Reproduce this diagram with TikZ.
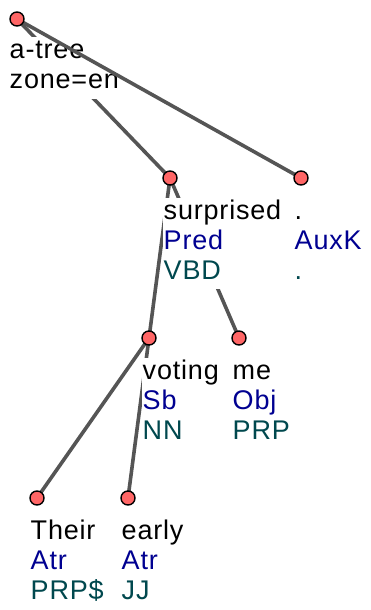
\documentclass[tikz,border=0pt]{standalone}
\usepackage{fontspec}
\setmainfont[LetterSpace=3]{Liberation Sans}
\definecolor{dotred}{RGB}{255,102,102}
\definecolor{edgegray}{RGB}{85,85,85}
\definecolor{afun}{RGB}{0,0,145}
\definecolor{tag}{RGB}{0,72,78}
\begin{document}
\begin{tikzpicture}[x=1pt,y=-1pt,
    dot/.style={circle,draw=black,fill=dotred,line width=1.4pt,minimum size=14pt,inner sep=0pt},
    edge/.style={draw=edgegray,line width=3.6pt},
    lbl/.style={fill=white,inner sep=0.5pt,anchor=base west,font=\fontsize{27}{30}\selectfont}]
    \useasboundingbox (0,0) rectangle (370,610);

    % Node positions
    \coordinate (root) at (17,19);
    \coordinate (surprised) at (170,178);
    \coordinate (period) at (301,178);
    \coordinate (voting) at (149,338);
    \coordinate (me) at (239,338);
    \coordinate (their) at (37,498);
    \coordinate (early) at (128,498);

    % Edges behind the labels
    \draw[edge] (root) -- (surprised);
    \draw[edge] (surprised) -- (voting);
    \draw[edge] (surprised) -- (me);
    \draw[edge] (voting) -- (their);
    \draw[edge] (voting) -- (early);

    % Labels
    \node[lbl] (root-lbl) at (9,59) {\begin{tabular}[t]{@{}l@{}}a-tree\\zone=en\end{tabular}};
    \node[lbl] (surprised-lbl) at (163,219) {\begin{tabular}[t]{@{}l@{}}surprised\\\color{afun}Pred\\\color{tag}VBD\end{tabular}};
    \node[lbl] (period-lbl) at (294,219) {\begin{tabular}[t]{@{}l@{}}.\\\color{afun}AuxK\\\color{tag}.\end{tabular}};
    \node[lbl] (voting-lbl) at (142,379) {\begin{tabular}[t]{@{}l@{}}voting\\\color{afun}Sb\\\color{tag}NN\end{tabular}};
    \node[lbl] (me-lbl) at (232,379) {\begin{tabular}[t]{@{}l@{}}me\\\color{afun}Obj\\\color{tag}PRP\end{tabular}};
    \node[lbl] (their-lbl) at (30,539) {\begin{tabular}[t]{@{}l@{}}Their\\\color{afun}Atr\\\color{tag}PRP\$\end{tabular}};
    \node[lbl] (early-lbl) at (121,539) {\begin{tabular}[t]{@{}l@{}}early\\\color{afun}Atr\\\color{tag}JJ\end{tabular}};

    % Edge over the root label
    \draw[edge] (root) -- (period);

    % Dots
    \foreach \n in {root,surprised,period,voting,me,their,early}
        \node[dot] (\n-dot) at (\n) {};
\end{tikzpicture}
\end{document}
